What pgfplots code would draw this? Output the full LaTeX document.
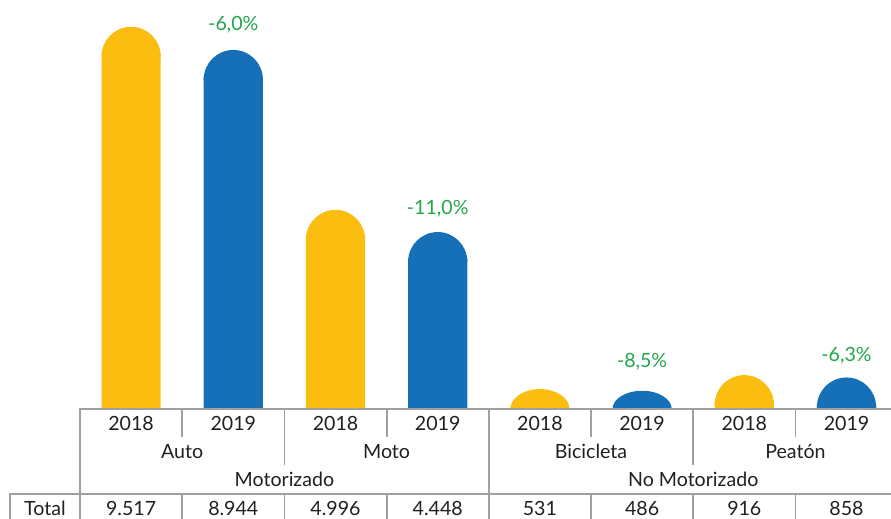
\documentclass[border=0pt]{standalone}
\usepackage{pgfplots}
\pgfplotsset{compat=1.18}
\usepackage{pgfplotstable}
\usepackage{fontspec}
\setmainfont{Lato}
\definecolor{cy}{HTML}{FBBE10}
\definecolor{cb}{HTML}{1570B8}
\definecolor{cg}{HTML}{22A64C}
\definecolor{ln}{HTML}{A0A0A0}
\definecolor{tx}{HTML}{231F20}
\newcommand\capR{29.6}
\pgfdeclareplotmark{capmark}{%
  \pgfpathmoveto{\pgfqpoint{-\capR pt}{-0.6pt}}%
  \pgfpathlineto{\pgfqpoint{-\capR pt}{0pt}}%
  \pgfpatharc{180}{0}{\capR pt and \caph pt}%
  \pgfpathlineto{\pgfqpoint{\capR pt}{-0.6pt}}%
  \pgfpathclose
  \pgfusepathqfill}
\pgfplotstableread{
x v
0 9517
2 4996
4 531
6 916
}\tA
\pgfplotstableread{
x v
1 8944
3 4448
5 486
7 858
}\tB
\begin{document}
\begin{tikzpicture}[every node/.style={font=\fontsize{19.6}{22}\selectfont, text=tx, inner sep=0pt}]
\useasboundingbox (0,0) rectangle (891pt,519pt);
\begin{axis}[at={(80pt,110pt)}, anchor=south west, x=102.2pt, y=0.0405pt,
  xmin=-0.5, xmax=7.5, ymin=0, ymax=10100, hide axis, clip=false, bar width=59.2pt]
\addplot[ybar, bar shift=0pt, fill=cy, draw=none] table[x=x, y expr={max(\thisrow{v}-730,0)}] {\tA};
\addplot[ybar, bar shift=0pt, fill=cb, draw=none] table[x=x, y expr={max(\thisrow{v}-730,0)}] {\tB};
\addplot[only marks, mark=capmark, mark options={fill=cy, draw=none},
  visualization depends on={min(29.6,\thisrow{v}*0.0375) \as \caph}]
  table[x=x, y expr={max(\thisrow{v}-810,0)}] {\tA};
\addplot[only marks, mark=capmark, mark options={fill=cb, draw=none},
  visualization depends on={min(29.6,\thisrow{v}*0.0375) \as \caph}]
  table[x=x, y expr={max(\thisrow{v}-810,0)}] {\tB};
\end{axis}
% table lines
\begin{scope}[draw=ln, line width=1.8pt]
\draw (80pt,-5pt) -- (80pt,110pt) -- (900pt,110pt);
\draw (10pt,-5pt) -- (10pt,25pt) -- (900pt,25pt);
\draw (488.8pt,-5pt) -- (488.8pt,110pt);
\foreach \xx in {284.4,693.2} {
  \draw (\xx pt,110pt) -- (\xx pt,54pt);
  \draw (\xx pt,25pt) -- (\xx pt,-5pt);
}
\foreach \xx in {182.2,386.6,591,795.4} {
  \draw (\xx pt,110pt) -- (\xx pt,82pt);
  \draw (\xx pt,25pt) -- (\xx pt,-5pt);
}
\end{scope}
% years
\foreach \xx/\yy in {131.1/2018,233.3/2019,335.5/2018,437.7/2019,539.9/2018,642.1/2019,744.3/2018,846.5/2019}
  \node[anchor=base] at (\xx pt,88pt) {\yy};
\node[anchor=base] at (182.2pt,60pt) {Auto};
\node[anchor=base] at (386.6pt,60pt) {Moto};
\node[anchor=base] at (591pt,60pt) {Bicicleta};
\node[anchor=base] at (795.4pt,60pt) {Peatón};
\node[anchor=base] at (284.4pt,32pt) {Motorizado};
\node[anchor=base] at (693.2pt,32pt) {No Motorizado};
\node[anchor=base] at (45pt,3pt) {Total};
\foreach \xx/\yy in {131.1/9.517,233.3/8.944,335.5/4.996,437.7/4.448,539.9/531,642.1/486,744.3/916,846.5/858}
  \node[anchor=base] at (\xx pt,3pt) {\yy};
% percent labels
\node[anchor=base, text=cg] at (233.3pt,488.5pt) {-6,0\%};
\node[anchor=base, text=cg] at (437.7pt,304pt) {-11,0\%};
\node[anchor=base, text=cg] at (642.1pt,151.5pt) {-8,5\%};
\node[anchor=base, text=cg] at (846.5pt,157pt) {-6,3\%};
\end{tikzpicture}
\end{document}
